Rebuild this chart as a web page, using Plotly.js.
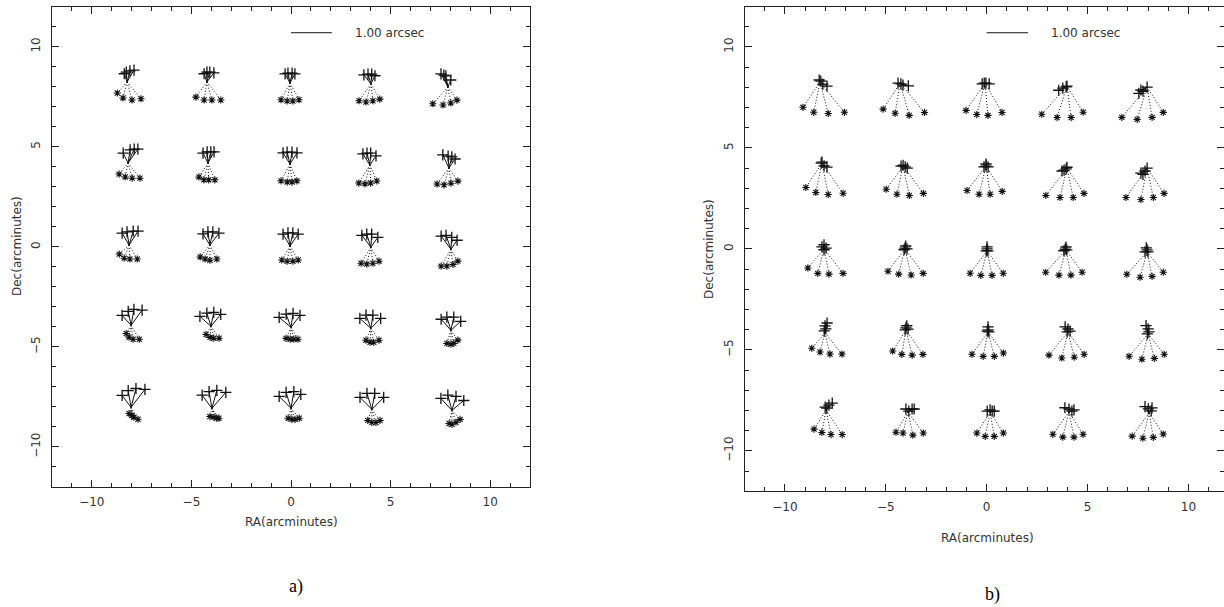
<!DOCTYPE html>
<html>
<head>
<meta charset="utf-8">
<script src="https://cdn.plot.ly/plotly-3.0.1.min.js"></script>
<style>
  html, body { margin: 0; padding: 0; background: #fff; }
  #chart { width: 1224px; height: 607px; }
</style>
</head>
<body>
<div id="chart"></div>
<script>
// ---------------- DATA ----------------
// Fan origins (arcminutes), row by row: Dec = 8, 4, 0, -4, -8 ; RA = -8, -4, 0, 4, 8
const A_CX = [-8.23,-4.22,-0.05,4.01,7.88,  -8.18,-4.17,-0.05,3.96,7.93,  -8.13,-4.07,-0.05,4.01,8.03,  -8.03,-4.02,0.00,4.01,8.03,  -8.03,-3.97,0.00,4.06,8.08];
const A_CY = [8.24,8.24,8.19,8.14,7.99,  4.19,4.19,4.14,4.09,3.94,  0.09,0.09,0.04,-0.02,-0.12,  -3.92,-3.97,-4.02,-4.07,-4.17,  -8.02,-8.07,-8.07,-8.12,-8.17];
const B_CX = [-8.26,-4.29,-0.08,3.98,7.95,  -8.16,-4.14,-0.03,3.98,7.95,  -8.06,-4.05,0.02,3.93,7.95,  -8.01,-4.00,0.07,4.03,8.00,  -7.96,-3.90,0.17,4.08,8.05];
const B_CY = [8.26,8.21,8.21,8.06,8.01,  4.25,4.10,4.10,4.00,4.00,  0.00,0.00,-0.10,-0.05,-0.15,  -4.16,-4.01,-4.11,-4.11,-4.21,  -7.98,-8.07,-8.07,-8.07,-8.12];

// Vector offsets (arcsec) of the "+" and "*" positions from each fan origin
const A_PLUS_DX = [
  [-0.07,-0.02,0.07,0.17],[-0.07,0,0.07,0.17],[-0.12,-0.05,0.05,0.12],[-0.17,-0.07,0.02,0.10],[-0.17,-0.10,-0.05,0.07],
  [-0.12,0.05,0.15,0.24],[-0.12,-0.02,0.07,0.15],[-0.17,-0.07,0.05,0.17],[-0.17,-0.07,0.02,0.15],[-0.15,-0.02,0.07,0.15],
  [-0.17,-0.05,0.10,0.22],[-0.17,-0.05,0.07,0.22],[-0.17,-0.05,0.07,0.20],[-0.22,-0.10,0.02,0.17],[-0.24,-0.12,0.02,0.15],
  [-0.22,-0.07,0.07,0.27],[-0.27,-0.10,0.07,0.24],[-0.29,-0.12,0.05,0.22],[-0.27,-0.12,0.05,0.24],[-0.24,-0.10,0.07,0.24],
  [-0.22,-0.07,0.12,0.34],[-0.24,-0.07,0.12,0.34],[-0.29,-0.12,0.07,0.24],[-0.29,-0.12,0.07,0.29],[-0.27,-0.10,0.10,0.29]
];
const A_PLUS_DY = [
  [0.20,0.24,0.27,0.29],[0.20,0.24,0.24,0.22],[0.22,0.24,0.24,0.22],[0.22,0.24,0.24,0.20],[0.32,0.29,0.27,0.17],
  [0.24,0.32,0.34,0.34],[0.24,0.27,0.27,0.27],[0.27,0.29,0.29,0.27],[0.27,0.29,0.29,0.22],[0.32,0.29,0.27,0.22],
  [0.29,0.32,0.34,0.34],[0.27,0.32,0.32,0.29],[0.29,0.32,0.32,0.29],[0.29,0.32,0.32,0.24],[0.32,0.34,0.29,0.22],
  [0.24,0.34,0.39,0.37],[0.24,0.32,0.34,0.29],[0.24,0.32,0.34,0.29],[0.24,0.32,0.32,0.24],[0.27,0.32,0.32,0.22],
  [0.29,0.41,0.46,0.44],[0.32,0.41,0.44,0.39],[0.29,0.39,0.41,0.34],[0.29,0.39,0.39,0.29],[0.29,0.37,0.34,0.24]
];
const A_STAR_DX = [
  [-0.24,-0.10,0.12,0.34],[-0.27,-0.07,0.12,0.34],[-0.22,-0.07,0.07,0.22],[-0.29,-0.12,0.05,0.22],[-0.37,-0.12,0.07,0.22],
  [-0.22,-0.07,0.10,0.29],[-0.22,-0.10,0.02,0.17],[-0.22,-0.07,0.05,0.17],[-0.27,-0.12,0.02,0.17],[-0.29,-0.12,0.05,0.22],
  [-0.24,-0.12,0.02,0.20],[-0.24,-0.12,0,0.17],[-0.20,-0.07,0.07,0.20],[-0.24,-0.10,0.05,0.20],[-0.24,-0.10,0.05,0.17],
  [-0.12,-0.05,0.05,0.20],[-0.12,-0.02,0.07,0.20],[-0.12,-0.02,0.07,0.17],[-0.12,-0.02,0.07,0.20],[-0.10,0,0.07,0.17],
  [-0.05,0.02,0.07,0.17],[-0.05,0.05,0.12,0.17],[-0.07,0.02,0.10,0.20],[-0.10,0,0.10,0.20],[-0.07,0,0.10,0.20]
];
const A_STAR_DY = [
  [-0.27,-0.39,-0.44,-0.41],[-0.37,-0.44,-0.44,-0.44],[-0.41,-0.44,-0.44,-0.41],[-0.41,-0.44,-0.41,-0.37],[-0.41,-0.44,-0.39,-0.32],
  [-0.27,-0.34,-0.37,-0.37],[-0.34,-0.41,-0.41,-0.41],[-0.41,-0.44,-0.44,-0.41],[-0.44,-0.46,-0.44,-0.39],[-0.39,-0.41,-0.37,-0.32],
  [-0.22,-0.32,-0.34,-0.34],[-0.29,-0.34,-0.37,-0.34],[-0.34,-0.37,-0.37,-0.34],[-0.39,-0.41,-0.39,-0.34],[-0.41,-0.41,-0.37,-0.29],
  [-0.20,-0.29,-0.34,-0.34],[-0.20,-0.27,-0.29,-0.29],[-0.27,-0.29,-0.29,-0.29],[-0.29,-0.34,-0.34,-0.29],[-0.32,-0.34,-0.32,-0.24],
  [-0.15,-0.20,-0.24,-0.29],[-0.20,-0.22,-0.24,-0.24],[-0.24,-0.27,-0.27,-0.24],[-0.27,-0.32,-0.32,-0.27],[-0.32,-0.34,-0.29,-0.22]
];

const B_PLUS_DX = [
  [-0.02,0.02,0.07,0.17],[-0.05,0.02,0.07,0.20],[-0.07,-0.02,0.02,0.10],[-0.20,-0.10,-0.02,0],[-0.20,-0.15,-0.10,0],
  [-0.02,0,0.05,0.12],[-0.05,0,0.05,0.10],[-0.05,0,0,0.05],[-0.12,-0.07,-0.02,0],[-0.15,-0.10,-0.05,0],
  [0,-0.05,0.05,0],[0.02,0,0.05,-0.02],[0,0,0.02,-0.02],[0,-0.02,0.02,-0.05],[-0.02,0,-0.05,0.02],
  [0.05,0,0.02,-0.02],[0.02,0,0.05,-0.02],[0,0,0.02,-0.02],[-0.07,0,0.05,-0.02],[-0.05,0,0.02,-0.02],
  [0.15,0.07,0.02,-0.02],[-0.05,0.02,0.10,0.15],[-0.07,0,0.05,0.10],[-0.10,0,0.07,0.12],[-0.10,-0.02,0.05,0.07]
];
const B_PLUS_DY = [
  [0.05,0.02,-0.05,-0.10],[0,-0.02,-0.05,-0.07],[-0.02,0,0,-0.02],[-0.10,-0.05,-0.02,0],[-0.15,-0.07,-0.10,0],
  [0,0.02,-0.07,-0.10],[0,0.02,-0.02,-0.05],[-0.02,0,0.05,-0.02],[-0.07,-0.05,-0.02,0.02],[-0.12,-0.15,-0.07,0],
  [0.10,0.05,0.02,-0.02],[0.07,0.02,0,-0.02],[0.10,0.05,0,0],[0.07,0.02,0,-0.02],[0.10,0.05,0,0],
  [0.24,0.17,0.10,0.05],[0.10,0.05,0.02,0],[0.12,0.05,0,0.02],[0.12,0.07,0.02,0],[0.20,0.12,0.05,0],
  [0.17,0.12,0.05,0.07],[0.07,0.02,0.07,0.07],[0.02,0.05,0.02,0.02],[0.10,0.07,0.02,0.05],[0.15,0.10,0.05,0.12]
];
const B_STAR_DX = [
  [-0.41,-0.15,0.20,0.59],[-0.41,-0.12,0.22,0.59],[-0.46,-0.20,0.07,0.41],[-0.61,-0.24,0.10,0.39],[-0.61,-0.24,0.12,0.39],
  [-0.39,-0.15,0.15,0.51],[-0.41,-0.15,0.15,0.49],[-0.46,-0.17,0.10,0.39],[-0.51,-0.17,0.15,0.41],[-0.51,-0.15,0.15,0.41],
  [-0.39,-0.15,0.12,0.46],[-0.41,-0.15,0.15,0.44],[-0.41,-0.15,0.12,0.39],[-0.49,-0.17,0.12,0.39],[-0.49,-0.17,0.12,0.39],
  [-0.32,-0.12,0.12,0.41],[-0.32,-0.10,0.15,0.41],[-0.39,-0.12,0.15,0.37],[-0.46,-0.15,0.15,0.39],[-0.46,-0.15,0.15,0.39],
  [-0.29,-0.10,0.12,0.39],[-0.29,-0.12,0.12,0.37],[-0.32,-0.12,0.10,0.32],[-0.39,-0.15,0.12,0.34],[-0.41,-0.15,0.10,0.34]
];
const B_STAR_DY = [
  [-0.61,-0.73,-0.76,-0.73],[-0.63,-0.73,-0.78,-0.71],[-0.66,-0.76,-0.78,-0.71],[-0.68,-0.76,-0.76,-0.63],[-0.73,-0.78,-0.73,-0.61],
  [-0.59,-0.71,-0.76,-0.73],[-0.56,-0.68,-0.71,-0.66],[-0.59,-0.68,-0.68,-0.61],[-0.66,-0.71,-0.71,-0.61],[-0.71,-0.76,-0.71,-0.61],
  [-0.46,-0.59,-0.61,-0.59],[-0.54,-0.61,-0.63,-0.59],[-0.54,-0.59,-0.59,-0.54],[-0.54,-0.61,-0.61,-0.54],[-0.54,-0.61,-0.59,-0.49],
  [-0.37,-0.46,-0.51,-0.51],[-0.51,-0.59,-0.61,-0.59],[-0.54,-0.59,-0.59,-0.51],[-0.56,-0.63,-0.61,-0.54],[-0.54,-0.61,-0.59,-0.49],
  [-0.46,-0.54,-0.59,-0.59],[-0.49,-0.51,-0.56,-0.51],[-0.51,-0.59,-0.59,-0.51],[-0.54,-0.61,-0.61,-0.54],[-0.56,-0.61,-0.59,-0.51]
];

const SCALE_BAR_ARCSEC = 1.00;        // scale bar value
const ARCMIN_PER_ARCSEC = 2.05;       // plotted length of one arcsec of displacement
const SCALE_LABEL = "1.00 arcsec";
const X_TITLE = "RA(arcminutes)";
const Y_TITLE = "Dec(arcminutes)";
const PANEL_LABELS = ["a)", "b)"];

// ---------------- BUILD ----------------
const INK = '#111';
function fanTraces(cx, cy, pdx, pdy, sdx, sdy, xa, ya) {
  const sx = [], sy = [], dx = [], dy = [], px = [], py = [], qx = [], qy = [];
  for (let i = 0; i < cx.length; i++) {
    for (let k = 0; k < pdx[i].length; k++) {
      const x = cx[i] + pdx[i][k] * ARCMIN_PER_ARCSEC;
      const y = cy[i] + pdy[i][k] * ARCMIN_PER_ARCSEC;
      sx.push(cx[i], x, null); sy.push(cy[i], y, null);
      px.push(x); py.push(y);
    }
    for (let k = 0; k < sdx[i].length; k++) {
      const x = cx[i] + sdx[i][k] * ARCMIN_PER_ARCSEC;
      const y = cy[i] + sdy[i][k] * ARCMIN_PER_ARCSEC;
      dx.push(cx[i], x, null); dy.push(cy[i], y, null);
      qx.push(x); qy.push(y);
    }
  }
  return [
    {x: sx, y: sy, xaxis: xa, yaxis: ya, mode: 'lines', line: {color: INK, width: 1}, hoverinfo: 'skip', showlegend: false},
    {x: dx, y: dy, xaxis: xa, yaxis: ya, mode: 'lines', line: {color: INK, width: 1, dash: '1px,2px'}, hoverinfo: 'skip', showlegend: false},
    {x: px, y: py, xaxis: xa, yaxis: ya, mode: 'markers', marker: {symbol: 'cross-thin-open', size: 8, color: INK, line: {color: INK, width: 1.3}}, showlegend: false},
    {x: qx, y: qy, xaxis: xa, yaxis: ya, mode: 'markers', marker: {symbol: 'asterisk-open', size: 6, color: INK, line: {color: INK, width: 1.1}}, showlegend: false}
  ];
}

function scaleBar(xa, ya) {
  return {x: [0, SCALE_BAR_ARCSEC * ARCMIN_PER_ARCSEC], y: [10.7, 10.7], xaxis: xa, yaxis: ya,
          mode: 'lines', line: {color: INK, width: 1}, hoverinfo: 'skip', showlegend: false};
}

const data = [].concat(
  fanTraces(A_CX, A_CY, A_PLUS_DX, A_PLUS_DY, A_STAR_DX, A_STAR_DY, 'x', 'y'),
  fanTraces(B_CX, B_CY, B_PLUS_DX, B_PLUS_DY, B_STAR_DX, B_STAR_DY, 'x2', 'y2'),
  [scaleBar('x', 'y'), scaleBar('x2', 'y2')]
);

const W = 1224, H = 607;
const tickFont = {family: 'DejaVu Sans, Liberation Sans, sans-serif', size: 12, color: '#333'};
function axis(domain, range, isY, anchor) {
  return {
    domain: domain, range: range, anchor: anchor,
    showgrid: false, zeroline: false, showline: true, linecolor: '#222', linewidth: 1,
    ticks: 'inside', ticklen: 7, tickwidth: 1, tickcolor: '#222', mirror: 'ticks',
    tick0: 0, dtick: 5, tickfont: tickFont, tickangle: isY ? -90 : 0,
    ticklabelstandoff: isY ? 6 : 4,
    minor: {ticks: 'inside', dtick: 1, ticklen: 4, tickwidth: 1, tickcolor: '#222'},
    fixedrange: true
  };
}

const layout = {
  width: W, height: H,
  margin: {l: 0, r: 0, t: 0, b: 0},
  paper_bgcolor: '#fff', plot_bgcolor: '#fff',
  xaxis: axis([52 / W, 530 / W], [-12, 12], false, 'y'),
  yaxis: axis([1 - 487 / H, 1 - 6.7 / H], [-12, 12], true, 'x'),
  xaxis2: axis([744.5 / W, 1], [-12, 11.76], false, 'y2'),
  yaxis2: axis([1 - 491.3 / H, 1 - 6.5 / H], [-12, 12], true, 'x2'),
  annotations: [
    {xref: 'x', yref: 'y', x: 3.1, y: 10.7, text: SCALE_LABEL, showarrow: false, xanchor: 'left', yanchor: 'middle', font: tickFont},
    {xref: 'x2', yref: 'y2', x: 3.1, y: 10.7, text: SCALE_LABEL, showarrow: false, xanchor: 'left', yanchor: 'middle', font: tickFont},
    {xref: 'paper', yref: 'paper', x: 291 / W, y: 1 - 522 / H, text: X_TITLE, showarrow: false, xanchor: 'center', yanchor: 'middle', font: tickFont},
    {xref: 'paper', yref: 'paper', x: 987 / W, y: 1 - 538 / H, text: X_TITLE, showarrow: false, xanchor: 'center', yanchor: 'middle', font: tickFont},
    {xref: 'paper', yref: 'paper', x: 17 / W, y: 1 - 246 / H, text: Y_TITLE, showarrow: false, textangle: -90, xanchor: 'center', yanchor: 'middle', font: tickFont},
    {xref: 'paper', yref: 'paper', x: 709 / W, y: 1 - 249 / H, text: Y_TITLE, showarrow: false, textangle: -90, xanchor: 'center', yanchor: 'middle', font: tickFont},
    {xref: 'paper', yref: 'paper', x: 296 / W, y: 1 - 586 / H, text: PANEL_LABELS[0], showarrow: false, xanchor: 'center', yanchor: 'middle', font: {family: 'Liberation Serif, serif', size: 18, color: '#000'}},
    {xref: 'paper', yref: 'paper', x: 992 / W, y: 1 - 594 / H, text: PANEL_LABELS[1], showarrow: false, xanchor: 'center', yanchor: 'middle', font: {family: 'Liberation Serif, serif', size: 18, color: '#000'}}
  ]
};

Plotly.newPlot('chart', data, layout, {staticPlot: true, displayModeBar: false});
</script>
</body>
</html>
